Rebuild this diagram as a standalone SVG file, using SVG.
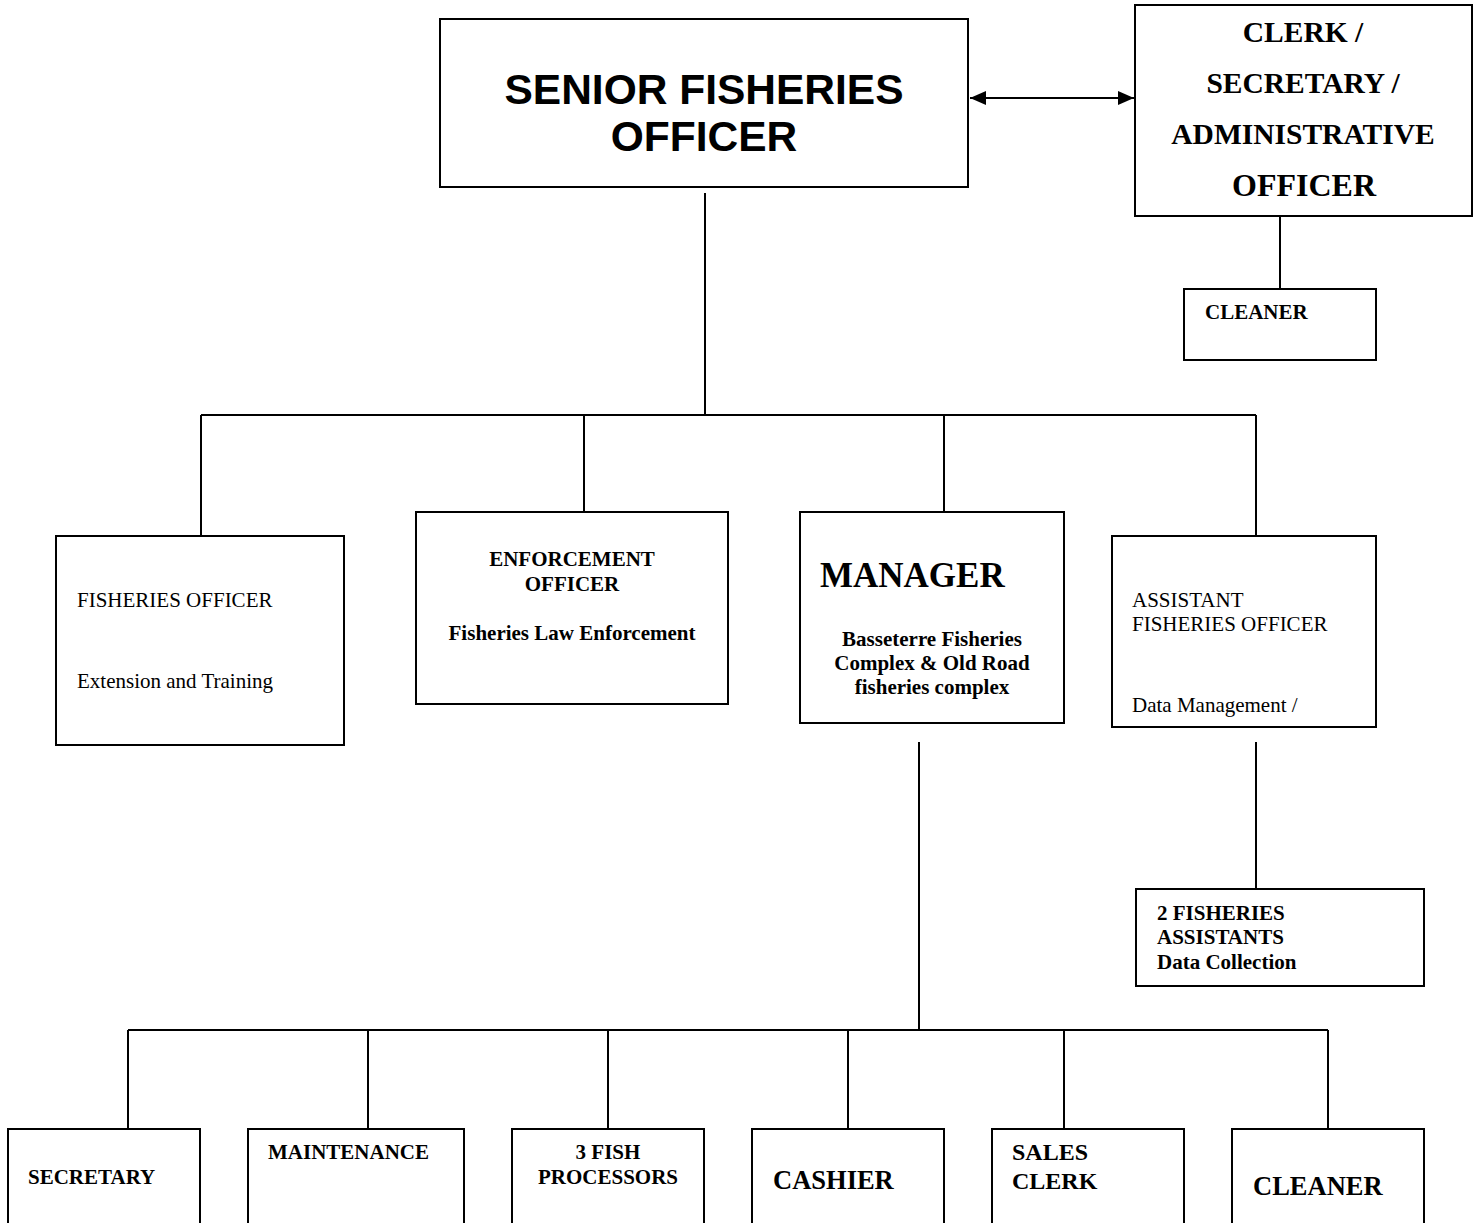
<svg xmlns="http://www.w3.org/2000/svg" width="1478" height="1223" viewBox="0 0 1478 1223">
<style>
.box{fill:#fff;stroke:#000;stroke-width:2}
.ln{stroke:#000;stroke-width:2;fill:none}
.t{font-family:"Liberation Serif",serif;fill:#000}
.b{font-weight:bold}
.s18{font-size:21px}
.m{text-anchor:middle}
</style>
<defs>
<marker id="ah" markerWidth="16" markerHeight="14" refX="16" refY="7" orient="auto-start-reverse" markerUnits="userSpaceOnUse" viewBox="0 0 16 14">
<path d="M0,0 L16,7 L0,14 z" fill="#000"/>
</marker>
</defs>
<rect width="1478" height="1223" fill="#fff"/>
<g id="connectors">
<line class="ln" x1="970" y1="98" x2="1134" y2="98" stroke-width="3" marker-start="url(#ah)" marker-end="url(#ah)"/>
<line class="ln" x1="1280" y1="216" x2="1280" y2="289"/>
<line class="ln" x1="705" y1="193" x2="705" y2="415"/>
<line class="ln" x1="201" y1="415" x2="1256" y2="415"/>
<line class="ln" x1="201" y1="415" x2="201" y2="536"/>
<line class="ln" x1="584" y1="415" x2="584" y2="512"/>
<line class="ln" x1="944" y1="415" x2="944" y2="512"/>
<line class="ln" x1="1256" y1="415" x2="1256" y2="536"/>
<line class="ln" x1="919" y1="742" x2="919" y2="1030"/>
<line class="ln" x1="128" y1="1030" x2="1328" y2="1030"/>
<line class="ln" x1="128" y1="1030" x2="128" y2="1129"/>
<line class="ln" x1="368" y1="1030" x2="368" y2="1129"/>
<line class="ln" x1="608" y1="1030" x2="608" y2="1129"/>
<line class="ln" x1="848" y1="1030" x2="848" y2="1129"/>
<line class="ln" x1="1064" y1="1030" x2="1064" y2="1129"/>
<line class="ln" x1="1328" y1="1030" x2="1328" y2="1129"/>
<line class="ln" x1="1256" y1="742" x2="1256" y2="889"/>
</g>
<g id="senior">
<rect class="box" x="440" y="19" width="528" height="168"/>
<text x="704" y="104" font-family="Liberation Sans,Arial,sans-serif" font-weight="bold" font-size="42.5" text-anchor="middle">SENIOR FISHERIES</text>
<text x="704" y="151" font-family="Liberation Sans,Arial,sans-serif" font-weight="bold" font-size="42.5" text-anchor="middle">OFFICER</text>
</g>
<g id="clerk">
<rect class="box" x="1135" y="5" width="337" height="211"/>
<text class="t b m" x="1303" y="42" font-size="29.5">CLERK /</text>
<text class="t b m" x="1303" y="93" font-size="29.5">SECRETARY /</text>
<text class="t b m" x="1303" y="144" font-size="29.5">ADMINISTRATIVE</text>
<text class="t b m" x="1304" y="196" font-size="32">OFFICER</text>
</g>
<g id="cleaner-top">
<rect class="box" x="1184" y="289" width="192" height="71"/>
<text class="t b s18" x="1205" y="319">CLEANER</text>
</g>
<g id="fisheries-officer">
<rect class="box" x="56" y="536" width="288" height="209"/>
<text class="t s18" x="77" y="607">FISHERIES OFFICER</text>
<text class="t s18" x="77" y="688">Extension and Training</text>
</g>
<g id="enforcement">
<rect class="box" x="416" y="512" width="312" height="192"/>
<text class="t b s18 m" x="572" y="566">ENFORCEMENT</text>
<text class="t b s18 m" x="572" y="591">OFFICER</text>
<text class="t b s18 m" x="572" y="640">Fisheries Law Enforcement</text>
</g>
<g id="manager">
<rect class="box" x="800" y="512" width="264" height="211"/>
<text class="t b" x="820" y="587" font-size="35">MANAGER</text>
<text class="t b s18 m" x="932" y="646">Basseterre Fisheries</text>
<text class="t b s18 m" x="932" y="670">Complex &amp; Old Road</text>
<text class="t b s18 m" x="932" y="694">fisheries complex</text>
</g>
<g id="assistant">
<rect class="box" x="1112" y="536" width="264" height="191"/>
<text class="t s18" x="1132" y="607">ASSISTANT</text>
<text class="t s18" x="1132" y="631">FISHERIES OFFICER</text>
<text class="t s18" x="1132" y="712">Data Management /</text>
</g>
<g id="fisheries-assistants">
<rect class="box" x="1136" y="889" width="288" height="97"/>
<text class="t b s18" x="1157" y="920">2 FISHERIES</text>
<text class="t b s18" x="1157" y="944">ASSISTANTS</text>
<text class="t b s18" x="1157" y="969">Data Collection</text>
</g>
<g id="secretary">
<rect class="box" x="8" y="1129" width="192" height="110"/>
<text class="t b s18" x="28" y="1184">SECRETARY</text>
</g>
<g id="maintenance">
<rect class="box" x="248" y="1129" width="216" height="110"/>
<text class="t b s18" x="268" y="1159">MAINTENANCE</text>
</g>
<g id="fish-processors">
<rect class="box" x="512" y="1129" width="192" height="110"/>
<text class="t b s18 m" x="608" y="1159">3 FISH</text>
<text class="t b s18 m" x="608" y="1184">PROCESSORS</text>
</g>
<g id="cashier">
<rect class="box" x="752" y="1129" width="192" height="110"/>
<text class="t b" x="773" y="1189" font-size="26.5">CASHIER</text>
</g>
<g id="sales-clerk">
<rect class="box" x="992" y="1129" width="192" height="110"/>
<text class="t b" x="1012" y="1160" font-size="24">SALES</text>
<text class="t b" x="1012" y="1189" font-size="24">CLERK</text>
</g>
<g id="cleaner-bottom">
<rect class="box" x="1232" y="1129" width="192" height="110"/>
<text class="t b" x="1253" y="1195" font-size="26.5">CLEANER</text>
</g>
</svg>
